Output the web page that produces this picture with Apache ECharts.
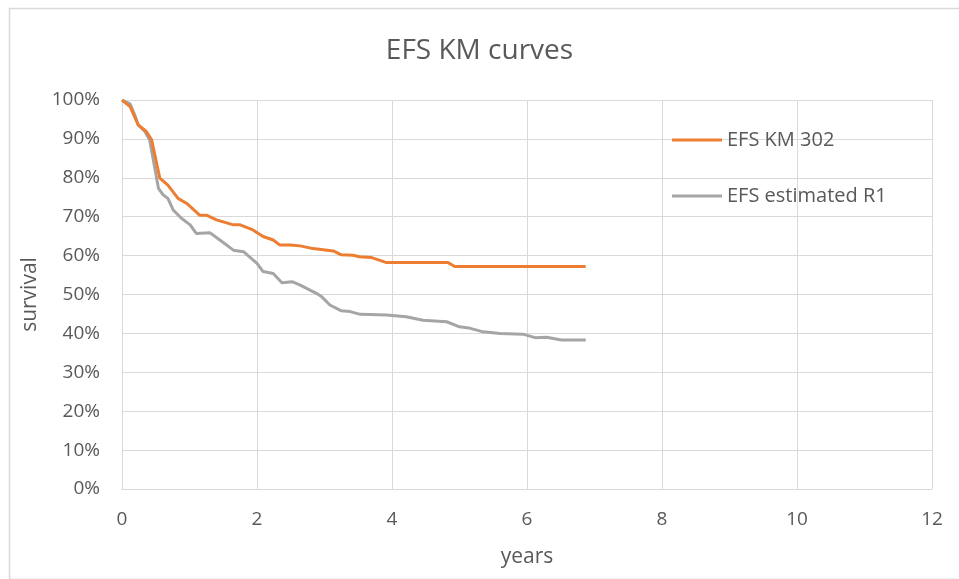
<!DOCTYPE html>
<html>
<head>
<meta charset="utf-8">
<script src="https://cdn.jsdelivr.net/npm/echarts@6/dist/echarts.min.js"></script>
<style>html,body{margin:0;padding:0;background:#fff}#c{width:959px;height:579px}</style>
</head>
<body>
<div id="c"></div>
<script>
var title = "EFS KM curves";
var seriesNames = ["EFS KM 302", "EFS estimated R1"];
var xTicks = [0, 2, 4, 6, 8, 10, 12];
var yTicks = [0, 0.1, 0.2, 0.3, 0.4, 0.5, 0.6, 0.7, 0.8, 0.9, 1.0];

var km302_t = [0, 0.12, 0.24, 0.36, 0.44, 0.56, 0.68, 0.83, 0.96, 1.15, 1.25, 1.40, 1.65, 1.75, 1.94, 2.09, 2.24, 2.34, 2.49, 2.64, 2.83, 3.13, 3.25, 3.42, 3.52, 3.70, 3.92, 4.83, 4.93, 5.60, 6.87];
var km302_s = [1.000, 0.983, 0.936, 0.919, 0.897, 0.799, 0.781, 0.747, 0.734, 0.704, 0.704, 0.692, 0.679, 0.679, 0.666, 0.649, 0.640, 0.627, 0.627, 0.625, 0.618, 0.612, 0.602, 0.601, 0.597, 0.595, 0.582, 0.582, 0.572, 0.572, 0.572];

var r1_t = [0, 0.12, 0.19, 0.24, 0.34, 0.41, 0.54, 0.61, 0.68, 0.76, 0.88, 1.01, 1.10, 1.30, 1.45, 1.65, 1.80, 2.00, 2.09, 2.24, 2.37, 2.52, 2.64, 2.88, 2.96, 3.08, 3.25, 3.38, 3.53, 3.92, 4.21, 4.46, 4.81, 5.00, 5.16, 5.35, 5.60, 5.94, 6.12, 6.29, 6.51, 6.87];
var r1_s = [1.000, 0.990, 0.961, 0.936, 0.919, 0.897, 0.773, 0.756, 0.747, 0.717, 0.696, 0.679, 0.657, 0.659, 0.640, 0.614, 0.610, 0.580, 0.559, 0.554, 0.530, 0.533, 0.524, 0.503, 0.494, 0.473, 0.458, 0.456, 0.449, 0.447, 0.443, 0.434, 0.430, 0.417, 0.413, 0.404, 0.400, 0.398, 0.389, 0.390, 0.383, 0.383];

function pairs(t, s) { return t.map(function (v, i) { return [v, s[i]]; }); }

var txt = "#595959";
var font = "'Open Sans', 'Noto Sans', sans-serif";
var chart = echarts.init(document.getElementById('c'), null, { renderer: 'canvas' });
chart.setOption({
  backgroundColor: '#fff',
  animation: false,
  textStyle: { fontFamily: font, color: txt },
  title: {
    text: title, left: 'center', top: 32,
    textStyle: { fontFamily: font, fontSize: 28, fontWeight: 'normal', color: txt }
  },
  graphic: [{
    type: 'rect', left: 7, top: 6, silent: true,
    shape: { width: 960, height: 571 },
    style: { fill: 'none', stroke: '#d9d9d9', lineWidth: 1.5 }
  }],
  legend: {
    orient: 'vertical', left: 672, top: 130, itemGap: 36, padding: 0,
    icon: 'rect', itemWidth: 50, itemHeight: 3,
    textStyle: { fontFamily: font, fontSize: 20, color: txt, padding: [0, 0, 0, 0] },
    data: seriesNames
  },
  grid: { left: 122, right: 27, top: 100, bottom: 90, containLabel: false },
  xAxis: {
    type: 'value', min: xTicks[0], max: xTicks[xTicks.length - 1], interval: 2,
    name: 'years', nameLocation: 'middle', nameGap: 58,
    nameTextStyle: { fontFamily: font, fontSize: 21, color: txt },
    axisLine: { lineStyle: { color: '#d9d9d9', width: 1 } },
    axisTick: { show: false },
    axisLabel: { fontFamily: font, fontSize: 19, color: txt, margin: 21 },
    splitLine: { show: true, lineStyle: { color: '#d9d9d9', width: 1 } }
  },
  yAxis: {
    type: 'value', min: yTicks[0], max: yTicks[yTicks.length - 1], interval: 0.1,
    name: 'survival', nameLocation: 'middle', nameGap: 80, nameRotate: 90,
    nameTextStyle: { fontFamily: font, fontSize: 21, color: txt },
    axisLine: { show: true, lineStyle: { color: '#d9d9d9', width: 1 } },
    axisTick: { show: false },
    axisLabel: { fontFamily: font, fontSize: 19, color: txt, margin: 22,
      formatter: function (v) { return Math.round(v * 100) + '%'; } },
    splitLine: { show: true, lineStyle: { color: '#d9d9d9', width: 1 } }
  },
  series: [
    { name: seriesNames[0], type: 'line', showSymbol: false, symbol: 'none',
      data: pairs(km302_t, km302_s), color: '#ed7d31',
      lineStyle: { color: '#ed7d31', width: 3 }, z: 3 },
    { name: seriesNames[1], type: 'line', showSymbol: false, symbol: 'none',
      data: pairs(r1_t, r1_s), color: '#a5a5a5',
      lineStyle: { color: '#a5a5a5', width: 3 }, z: 2 }
  ]
});
</script>
</body>
</html>
